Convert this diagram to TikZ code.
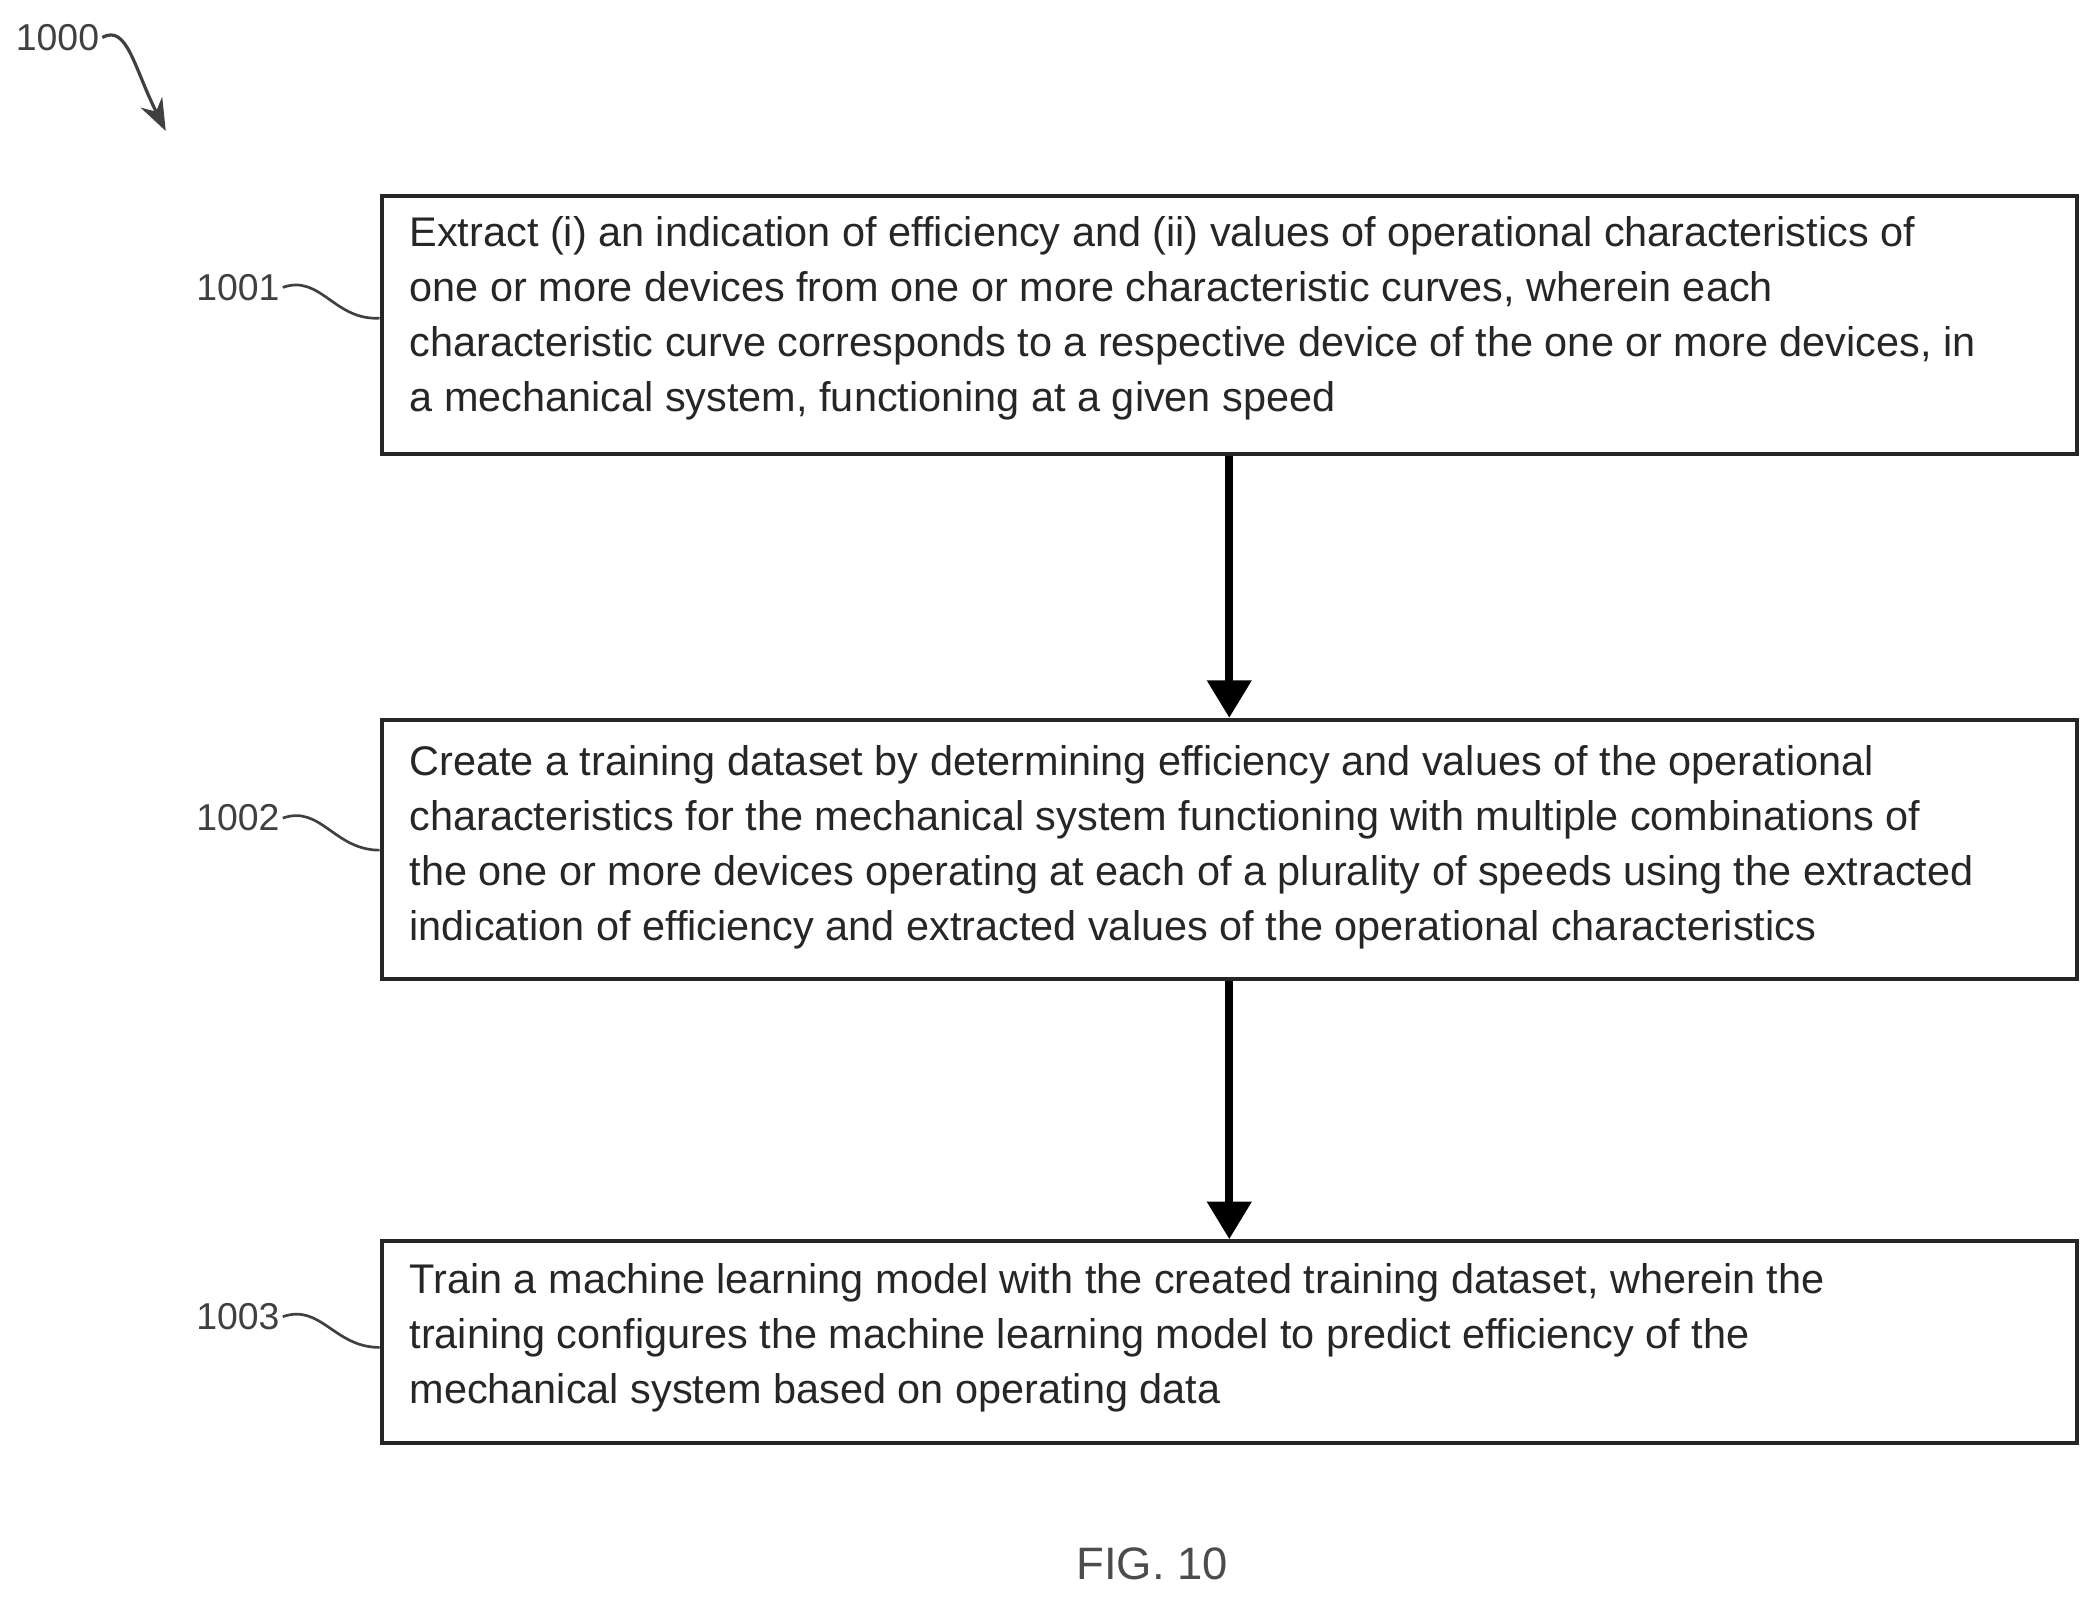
\documentclass[tikz,border=0pt]{standalone}
\usepackage{fontspec}
\setmainfont{Liberation Sans}
\usetikzlibrary{arrows.meta}
\begin{document}
\begin{tikzpicture}[x=0.5pt,y=-0.5pt,
  box/.style={draw=black!85,line width=1.6pt,inner sep=0pt},
  txt/.style={anchor=west,align=left,font=\fontsize{15.5}{20.5}\selectfont,text=black!85,inner sep=0pt},
  lab/.style={font=\fontsize{14}{16}\selectfont,text=black!75,inner sep=1pt},
  flow/.style={line width=3pt,-{Triangle[length=14pt,width=16pt]}},
  sq/.style={line width=1pt,black!75}]
\useasboundingbox (0,0) rectangle (1568,1202);
\node[box,minimum width=634pt,minimum height=96.5pt,anchor=north west] (b1) at (284,145) {};
\node[box,minimum width=634pt,minimum height=97pt,anchor=north west] (b2) at (284,537) {};
\node[box,minimum width=634pt,minimum height=75.5pt,anchor=north west] (b3) at (284,927) {};
\node[txt] (t1) at (306,238) {Extract (i) an indication of efficiency and (ii) values of operational characteristics of\\one or more devices from one or more characteristic curves, wherein each\\characteristic curve corresponds to a respective device of the one or more devices, in\\a mechanical system, functioning at a given speed};
\node[txt] (t2) at (306,634) {Create a training dataset by determining efficiency and values of the operational\\characteristics for the mechanical system functioning with multiple combinations of\\the one or more devices operating at each of a plurality of speeds using the extracted\\indication of efficiency and extracted values of the operational characteristics};
\node[txt] (t3) at (306,1001) {Train a machine learning model with the created training dataset, wherein the\\training configures the machine learning model to predict efficiency of the\\mechanical system based on operating data};
\draw[flow] (b1.south) -- (b2.north);
\draw[flow] (b2.south) -- (b3.north);
\node[lab] (l0) at (43,28) {1000};
\node[lab] (l1) at (178,215) {1001};
\node[lab] (l2) at (178,612) {1002};
\node[lab] (l3) at (178,985) {1003};
\coordinate (c0) at (124,98);
\draw[sq] (l1.east) .. controls (240,205) and (250,240) .. (b1.west |- 0,238);
\draw[sq] (l2.east) .. controls (240,602) and (250,636) .. (b2.west |- 0,636);
\draw[sq] (l3.east) .. controls (240,975) and (250,1008) .. (b3.west |- 0,1008);
\draw[sq,line width=1.2pt,-{Stealth[length=12pt,width=9pt]}] (l0.east) .. controls (95,18) and (100,50) .. (c0);
\node[font=\fontsize{17}{20}\selectfont,text=black!70] (fig) at (862,1170) {FIG. 10};
\end{tikzpicture}
\end{document}
